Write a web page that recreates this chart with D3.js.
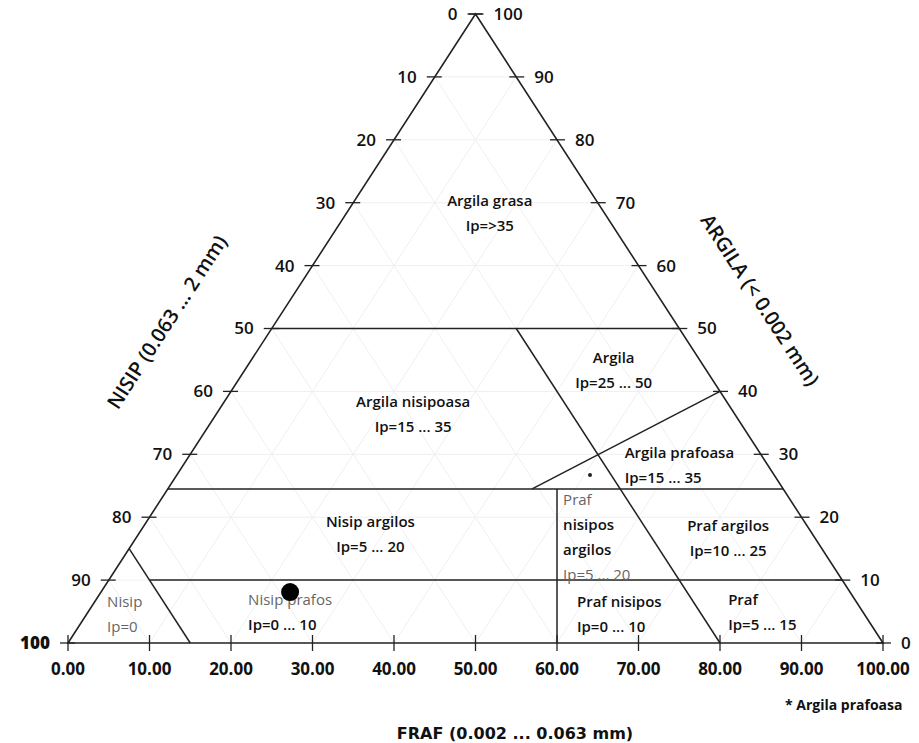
<!DOCTYPE html>
<html>
<head>
<meta charset="utf-8">
<script src="https://cdn.jsdelivr.net/npm/d3@7"></script>
<style>
  html, body { margin: 0; padding: 0; background: #fff; }
  svg { display: block; }
  text { font-family: "Open Sans", "Liberation Sans", sans-serif; fill: #111; }
</style>
</head>
<body>
<svg id="chart" width="919" height="743"></svg>
<script>
// ---------- data ----------
// tick values
const gridValues = [10, 20, 30, 40, 50, 60, 70, 80, 90];
const axisTicks = [0, 10, 20, 30, 40, 50, 60, 70, 80, 90, 100];
const frafTickLabels = ["0.00", "10.00", "20.00", "30.00", "40.00", "50.00", "60.00", "70.00", "80.00", "90.00", "100.00"];
const nisipTickLabels = ["0", "10", "20", "30", "40", "50", "60", "70", "80", "90", "100"];
const argilaTickLabels = ["0", "10", "20", "30", "40", "50", "60", "70", "80", "90", "100"];

// boundaries between classes, as [argila, fraf] pairs (percent)
const boundaryStart = [[50, 0], [24.5, 0], [10, 5], [0, 15], [0, 80], [0, 60], [24.5, 44.7]];
const boundaryEnd = [[50, 50], [24.5, 75.5], [10, 90], [15, 0], [50, 30], [24.5, 47.75], [40, 60]];

// class labels: name lines, plasticity index text, anchor [argila, fraf], alignment
const classNames = ["Argila grasa", "Argila", "Argila nisipoasa", "Argila prafoasa", "Nisip argilos",
  "Praf\nnisipos\nargilos", "Praf argilos", "Nisip", "Nisip prafos", "Praf nisipos", "Praf"];
const classIp = ["Ip=>35", "Ip=25 ... 50", "Ip=15 ... 35", "Ip=15 ... 35", "Ip=5 ... 20",
  "Ip=5 ... 20", "Ip=10 ... 25", "Ip=0", "Ip=0 ... 10", "Ip=0 ... 10", "Ip=5 ... 15"];
const classArgila = [70.3, 45.3, 38.3, 30.2, 19.2, 22.7, 18.6, 6.5, 6.8, 6.5, 6.8];
const classFraf = [16.6, 44.3, 23.2, 53.2, 27.5, 49.4, 71.7, 1.55, 18.7, 59.2, 77.6];
const classAnchor = ["middle", "middle", "middle", "start", "middle", "start", "middle", "start", "start", "start", "start"];
// which lines of each label are printed grey: "first", "ends", "all", "none"
const classGrey = ["none", "none", "none", "none", "none", "ends", "none", "all", "first", "none", "none"];

// sample point [argila, fraf]
const sampleArgila = [8.1];
const sampleFraf = [23.2];
// "*" marker of Argila prafoasa
const starArgila = [26.7];
const starFraf = [50.7];

// ---------- scales ----------
const svg = d3.select("#chart");
const xScale = d3.scaleLinear().domain([0, 100]).range([68, 883]);
const yScale = d3.scaleLinear().domain([0, 100]).range([643, 14]);
// ternary position: argila a, fraf f
const px = (a, f) => xScale(f + a / 2);
const py = (a) => yScale(a);

// ---------- faint grid ----------
const grid = svg.append("g").attr("stroke", "#efefef").attr("stroke-width", 1).attr("fill", "none");
gridValues.forEach(k => {
  grid.append("line").attr("x1", px(k, 0)).attr("y1", py(k)).attr("x2", px(k, 100 - k)).attr("y2", py(k));
  grid.append("line").attr("x1", px(0, k)).attr("y1", py(0)).attr("x2", px(100 - k, k)).attr("y2", py(100 - k));
  grid.append("line").attr("x1", px(0, 100 - k)).attr("y1", py(0)).attr("x2", px(100 - k, 0)).attr("y2", py(100 - k));
});

// ---------- triangle ----------
const tri = [[0, 0], [0, 100], [100, 0]];
svg.append("path")
  .attr("d", d3.line()(tri.map(d => [px(d[0], d[1]), py(d[0])])) + "Z")
  .attr("fill", "none").attr("stroke", "#222").attr("stroke-width", 1.6);

// ---------- boundaries ----------
const bnd = svg.append("g").attr("stroke", "#222").attr("stroke-width", 1.5);
boundaryStart.forEach((s, i) => {
  const e = boundaryEnd[i];
  bnd.append("line")
    .attr("x1", px(s[0], s[1])).attr("y1", py(s[0]))
    .attr("x2", px(e[0], e[1])).attr("y2", py(e[0]));
});

// ---------- ticks ----------
const tk = svg.append("g").attr("stroke", "#222").attr("stroke-width", 1.3);
axisTicks.forEach(k => {
  tk.append("line").attr("x1", xScale(k)).attr("x2", xScale(k)).attr("y1", py(0) - 8).attr("y2", py(0) + 8);
  const la = 100 - k;
  tk.append("line").attr("x1", px(la, 0) - 8).attr("x2", px(la, 0) + 7).attr("y1", py(la)).attr("y2", py(la));
  tk.append("line").attr("x1", px(k, 100 - k) - 7).attr("x2", px(k, 100 - k) + 8).attr("y1", py(k)).attr("y2", py(k));
});

// tick labels
const lab = svg.append("g").attr("font-size", 17).attr("font-weight", 600);
axisTicks.forEach((k, i) => {
  lab.append("text")
    .attr("x", xScale(k)).attr("y", py(0) + 32)
    .attr("text-anchor", "middle").attr("font-weight", 700).attr("font-size", 17)
    .text(frafTickLabels[i]);
  const la = 100 - k;
  lab.append("text")
    .attr("x", px(la, 0) - 18).attr("y", py(la)).attr("dy", "0.35em")
    .attr("text-anchor", "end")
    .attr("font-weight", k === 100 ? 800 : 600)
    .text(nisipTickLabels[i]);
  lab.append("text")
    .attr("x", px(k, 100 - k) + 18).attr("y", py(k)).attr("dy", "0.35em")
    .attr("text-anchor", "start")
    .text(argilaTickLabels[i]);
});

// axis titles
svg.append("text")
  .attr("transform", "translate(167,322) rotate(-57)")
  .attr("text-anchor", "middle").attr("dy", "0.35em")
  .attr("font-size", 20).attr("font-weight", 600)
  .text("NISIP (0.063 ... 2 mm)");
svg.append("text")
  .attr("transform", "translate(760,300) rotate(57)")
  .attr("text-anchor", "middle").attr("dy", "0.35em")
  .attr("font-size", 20).attr("font-weight", 600)
  .text("ARGILA (< 0.002 mm)");
svg.append("text")
  .attr("x", 515).attr("y", 733).attr("text-anchor", "middle").attr("dy", "0.35em")
  .style("font-family", "'DejaVu Sans', sans-serif")
  .attr("font-size", 16).attr("font-weight", 700)
  .text("FRAF (0.002 ... 0.063 mm)");
svg.append("text")
  .attr("x", 785).attr("y", 705).attr("dy", "0.35em")
  .attr("font-size", 14).attr("font-weight", 700)
  .text("* Argila prafoasa");

// ---------- class labels ----------
const cl = svg.append("g").attr("font-size", 15).attr("font-weight", 600);
classNames.forEach((name, i) => {
  const x = px(classArgila[i], classFraf[i]);
  const y = py(classArgila[i]);
  const lines = name.split("\n").concat([classIp[i]]);
  lines.forEach((t, j) => {
    const g = classGrey[i];
    const grey = g === "all" || (g === "first" && j === 0) || (g === "ends" && (j === 0 || j === lines.length - 1));
    cl.append("text")
      .attr("x", x).attr("y", y + j * 25).attr("dy", "0.35em")
      .attr("text-anchor", classAnchor[i])
      .style("fill", grey ? "#666" : "#111")
      .attr("font-weight", grey ? 400 : 600)
      .text(t);
  });
});

// star marker
svg.selectAll("circle.star").data(starArgila).enter().append("circle")
  .attr("class", "star")
  .attr("cx", (d, i) => px(d, starFraf[i])).attr("cy", d => py(d)).attr("r", 2).attr("fill", "#222");

// sample point
svg.selectAll("circle.sample").data(sampleArgila).enter().append("circle")
  .attr("class", "sample")
  .attr("cx", (d, i) => px(d, sampleFraf[i])).attr("cy", d => py(d)).attr("r", 9).attr("fill", "#000");
</script>
</body>
</html>
